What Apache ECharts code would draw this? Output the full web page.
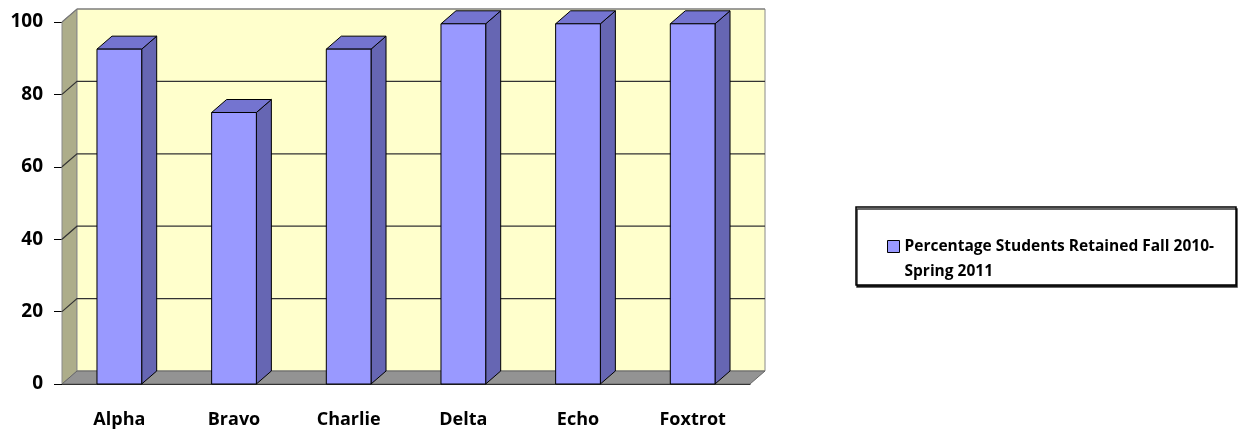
<!DOCTYPE html>
<html>
<head>
<meta charset="utf-8">
<script src="https://cdn.jsdelivr.net/npm/echarts@6/dist/echarts.min.js"></script>
<style>
  html, body { margin: 0; padding: 0; background: #fff; }
  #chart { width: 1239px; height: 433px; }
</style>
</head>
<body>
<div id="chart"></div>
<script>
const categories = ['Alpha', 'Bravo', 'Charlie', 'Delta', 'Echo', 'Foxtrot'];
const retained = [92.5, 75, 92.5, 99.5, 99.5, 99.5];
const yTicks = [0, 20, 40, 60, 80, 100];
const seriesName = 'Percentage Students Retained Fall 2010-Spring 2011';

// 3d depth offset in px
const DX = 15, DY = -13;
const FONT = '"Open Sans", sans-serif';

const chart = echarts.init(document.getElementById('chart'));

function renderWalls(params, api) {
  const cs = params.coordSys;
  const y0 = api.coord([0, 0])[1];
  const yTop = api.coord([0, 100])[1];
  const xl = cs.x, xr = cs.x + cs.width;
  const children = [
    { type: 'polygon', shape: { points: [[xl, yTop], [xl + DX, yTop + DY], [xl + DX, y0 + DY], [xl, y0]] },
      style: { fill: '#ADAD8A', stroke: '#8a8a8a', lineWidth: 1 } },
    { type: 'rect', shape: { x: xl + DX, y: yTop + DY, width: xr - xl, height: y0 - yTop },
      style: { fill: '#FFFFCC', stroke: '#8a8a8a', lineWidth: 1 } },
    { type: 'polygon', shape: { points: [[xl, y0], [xr, y0], [xr + DX, y0 + DY], [xl + DX, y0 + DY]] },
      style: { fill: '#939393', stroke: '#666', lineWidth: 1 } }
  ];
  yTicks.forEach(v => {
    if (v === 0) return;
    const y = api.coord([0, v])[1];
    children.push({
      type: 'polyline',
      shape: { points: [[xl, y], [xl + DX, y + DY], [xr + DX, y + DY]] },
      style: { stroke: v === 100 ? '#777' : '#333', lineWidth: 1.2, fill: null }
    });
  });
  return { type: 'group', children };
}

function renderBar(params, api) {
  const idx = api.value(0), val = api.value(1);
  const top = api.coord([idx, val]);
  const base = api.coord([idx, 0]);
  const w = api.size([1, 0])[0] * 0.39;
  const x1 = top[0] - w / 2, x2 = top[0] + w / 2;
  const yt = top[1], yb = base[1];
  return {
    type: 'group',
    children: [
      { type: 'polygon', shape: { points: [[x2, yt], [x2 + DX, yt + DY], [x2 + DX, yb + DY], [x2, yb]] },
        style: { fill: '#6666B3', stroke: '#000', lineWidth: 1 } },
      { type: 'polygon', shape: { points: [[x1, yt], [x1 + DX, yt + DY], [x2 + DX, yt + DY], [x2, yt]] },
        style: { fill: '#7474D0', stroke: '#000', lineWidth: 1 } },
      { type: 'rect', shape: { x: x1, y: yt, width: w, height: yb - yt },
        style: { fill: '#9999FF', stroke: '#000', lineWidth: 1 } }
    ]
  };
}

chart.setOption({
  animation: false,
  grid: { left: 62, top: 22, width: 688, bottom: 49 },
  xAxis: {
    type: 'category',
    data: categories,
    boundaryGap: true,
    axisLine: { lineStyle: { color: '#000', width: 1 } },
    axisTick: { length: 8, lineStyle: { color: '#000' } },
    axisLabel: { color: '#000', fontFamily: FONT, fontWeight: 'bold', fontSize: 18, margin: 27 }
  },
  yAxis: {
    type: 'value',
    min: 0,
    max: 100,
    interval: 20,
    axisLine: { show: true, lineStyle: { color: '#000', width: 1 } },
    axisTick: { show: true, length: 8, lineStyle: { color: '#000' } },
    axisLabel: { color: '#000', fontFamily: FONT, fontWeight: 'bold', fontSize: 19, margin: 19 },
    splitLine: { show: false }
  },
  legend: {
    data: [seriesName],
    left: 887,
    top: 209,
    padding: 0,
    selectedMode: false,
    itemWidth: 12,
    itemHeight: 12,
    icon: 'rect',
    itemStyle: { borderColor: '#000', borderWidth: 1 },
    // leading blank line keeps the icon level with the first text line
    formatter: () => '\nPercentage Students Retained Fall 2010-\nSpring 2011',
    textStyle: { color: '#000', fontFamily: FONT, fontWeight: 'bold', fontSize: 15.5, lineHeight: 25 }
  },
  graphic: {
    elements: [{
      type: 'rect',
      z: 0,
      shape: { x: 856, y: 207, width: 380, height: 78 },
      style: { fill: '#fff', stroke: '#000', lineWidth: 1.5, shadowColor: 'rgba(0,0,0,0.8)', shadowOffsetX: 1, shadowOffsetY: 2 }
    }]
  },
  series: [
    {
      type: 'custom',
      name: 'walls',
      renderItem: renderWalls,
      data: [[0, 0]],
      clip: false,
      silent: true,
      z: 1
    },
    {
      type: 'custom',
      name: seriesName,
      renderItem: renderBar,
      itemStyle: { color: '#9999FF' },
      data: categories.map((c, i) => [i, retained[i]]),
      clip: false,
      z: 2
    }
  ]
});
</script>
</body>
</html>
